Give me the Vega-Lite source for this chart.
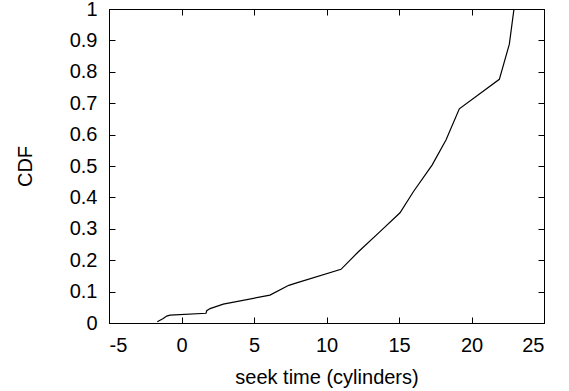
{
  "$schema": "https://vega.github.io/schema/vega-lite/v6.json",
  "width": 435,
  "height": 314,
  "autosize": {"type": "none"},
  "padding": {"left": 109, "top": 9, "right": 25, "bottom": 68},
  "background": "white",
  "config": {
    "view": {"stroke": "black", "strokeWidth": 1},
    "font": "Liberation Sans",
    "axis": {
      "domainColor": "black",
      "tickColor": "black",
      "labelColor": "black",
      "titleColor": "black",
      "labelFont": "Liberation Sans",
      "titleFont": "Liberation Sans",
      "labelFontSize": 20,
      "titleFontSize": 20,
      "titleFontWeight": "normal",
      "grid": false,
      "tickSize": -6,
      "labelExpr": "toString(datum.value)"
    }
  },
  "data": {
    "values": [
      {"x": -1.67, "y": 0.004},
      {"x": -1.26, "y": 0.014},
      {"x": -1.02, "y": 0.022},
      {"x": -0.79, "y": 0.025},
      {"x": 1.69, "y": 0.031},
      {"x": 1.74, "y": 0.039},
      {"x": 1.97, "y": 0.046},
      {"x": 2.88, "y": 0.06},
      {"x": 6.1, "y": 0.089},
      {"x": 7.4, "y": 0.12},
      {"x": 7.94, "y": 0.128},
      {"x": 11.0, "y": 0.171},
      {"x": 12.2, "y": 0.227},
      {"x": 13.69, "y": 0.291},
      {"x": 15.07, "y": 0.351},
      {"x": 15.99, "y": 0.418},
      {"x": 17.28, "y": 0.503},
      {"x": 18.24, "y": 0.583},
      {"x": 19.16, "y": 0.682},
      {"x": 21.92, "y": 0.776},
      {"x": 22.61, "y": 0.888},
      {"x": 22.93, "y": 1.0}
    ]
  },
  "resolve": {"axis": {"x": "independent", "y": "independent"}},
  "layer": [
    {
      "mark": {"type": "line", "color": "black", "strokeWidth": 1.2, "clip": true},
      "encoding": {
        "x": {"field": "x", "type": "quantitative", "scale": {"domain": [-5, 25], "nice": false, "zero": false},
              "axis": {"orient": "bottom", "values": [-5, 0, 5, 10, 15, 20, 25], "labelPadding": 18, "title": "seek time (cylinders)", "titlePadding": 12}},
        "y": {"field": "y", "type": "quantitative", "scale": {"domain": [0, 1], "nice": false},
              "axis": {"orient": "left", "values": [0, 0.1, 0.2, 0.3, 0.4, 0.5, 0.6, 0.7, 0.8, 0.9, 1], "labelPadding": 18, "title": "CDF", "titlePadding": 34}}
      }
    },
    {
      "mark": {"type": "line", "opacity": 0},
      "encoding": {
        "x": {"field": "x", "type": "quantitative",
              "axis": {"orient": "top", "values": [-5, 0, 5, 10, 15, 20, 25], "labels": false, "title": null}},
        "y": {"field": "y", "type": "quantitative",
              "axis": {"orient": "right", "values": [0, 0.1, 0.2, 0.3, 0.4, 0.5, 0.6, 0.7, 0.8, 0.9, 1], "labels": false, "title": null}}
      }
    }
  ]
}
